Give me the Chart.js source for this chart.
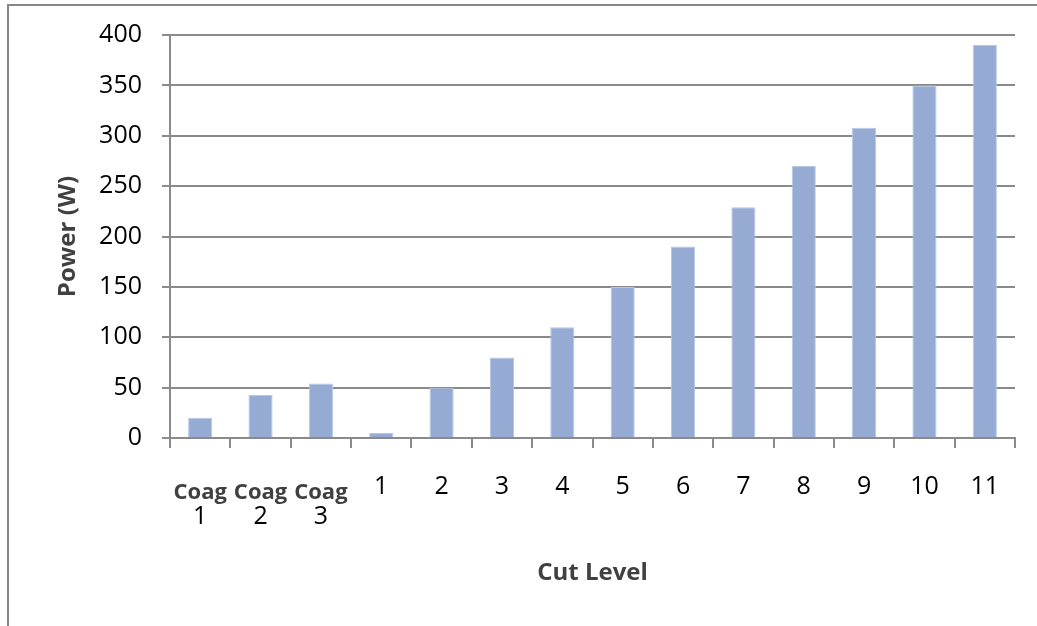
<!DOCTYPE html>
<html>
<head>
<meta charset="utf-8">
<script src="https://cdn.jsdelivr.net/npm/chart.js@4"></script>
<style>
  html, body { margin: 0; padding: 0; background: #fff; }
  canvas { display: block; }
</style>
</head>
<body>
<canvas id="myChart" width="1037" height="626"></canvas>
<script>
// cut levels along the x axis and the measured output power
var levels = ['Coag 1', 'Coag 2', 'Coag 3', '1', '2', '3', '4', '5', '6', '7', '8', '9', '10', '11'];
var power = [20, 43, 54, 5, 50, 80, 110, 150, 190, 229, 270, 308, 350, 390];
var yTicks = [0, 50, 100, 150, 200, 250, 300, 350, 400];

var lineGray = '#8a8a8a';
var textGray = '#404040';
var numFont = { family: "'Open Sans', sans-serif", size: 25 };
var boldFont = { family: "'Open Sans', sans-serif", size: 24, weight: 'bold' };

// outer frame of the chart
const frame = {
  id: 'frame',
  beforeDraw(chart) {
    const ctx = chart.ctx;
    ctx.save();
    ctx.fillStyle = '#fff';
    ctx.fillRect(0, 0, chart.width, chart.height);
    ctx.strokeStyle = '#878787';
    ctx.lineWidth = 2;
    ctx.beginPath();
    ctx.moveTo(chart.width, 5);
    ctx.lineTo(8, 5);
    ctx.lineTo(8, chart.height);
    ctx.stroke();
    ctx.restore();
  }
};

// bold "Coag" word above the number for the coag settings
const coagWords = {
  id: 'coagWords',
  afterDraw(chart) {
    const ctx = chart.ctx;
    const x = chart.scales.x;
    ctx.save();
    ctx.font = 'bold 22px "Open Sans", sans-serif';
    ctx.fillStyle = textGray;
    ctx.textAlign = 'center';
    ctx.textBaseline = 'middle';
    levels.forEach(function (lab, i) {
      if (lab.indexOf('Coag') === 0) {
        ctx.fillText('Coag', x.getPixelForValue(i), x.top + 55);
      }
    });
    ctx.restore();
  }
};

const data = {
  labels: levels,
  datasets: [{
    label: 'Power (W)',
    data: power,
    backgroundColor: '#95abd4',
    borderColor: '#b7c7e4',
    borderWidth: 1,
    barPercentage: 0.4,
    categoryPercentage: 1.0
  }]
};

const config = {
  type: 'bar',
  data: data,
  options: {
    responsive: false,
    animation: false,
    layout: { padding: { left: 0, top: 35, right: 22, bottom: 0 } },
    plugins: {
      legend: { display: false },
      tooltip: { enabled: false }
    },
    scales: {
      x: {
        afterFit: function (s) { s.height = 188; },
        grid: {
          offset: true,
          drawOnChartArea: false,
          drawTicks: true,
          tickLength: 10,
          color: lineGray,
          lineWidth: 2
        },
        border: { display: true, color: lineGray, width: 2 },
        ticks: {
          font: numFont,
          color: '#000',
          padding: 24,
          maxRotation: 0,
          autoSkip: false,
          callback: function (v, i) {
            var lab = levels[i];
            if (lab.indexOf('Coag') === 0) {
              return ['', lab.split(' ')[1]];
            }
            return lab;
          }
        },
        title: {
          display: true,
          text: 'Cut Level',
          font: boldFont,
          color: textGray,
          padding: { top: 0, bottom: 38 }
        }
      },
      y: {
        min: 0,
        max: 400,
        afterFit: function (s) { s.width = 170; },
        afterBuildTicks: function (s) {
          s.ticks = yTicks.map(function (v) { return { value: v }; });
        },
        grid: {
          color: lineGray,
          lineWidth: 2,
          drawTicks: true,
          tickLength: 8
        },
        border: { display: true, color: lineGray, width: 2 },
        ticks: {
          font: numFont,
          color: '#000',
          padding: 20
        },
        title: {
          display: true,
          text: 'Power (W)',
          font: boldFont,
          color: textGray,
          padding: { top: 54, bottom: 0 }
        }
      }
    }
  },
  plugins: [frame, coagWords]
};

var myChart = new Chart(document.getElementById('myChart'), config);
</script>
</body>
</html>
